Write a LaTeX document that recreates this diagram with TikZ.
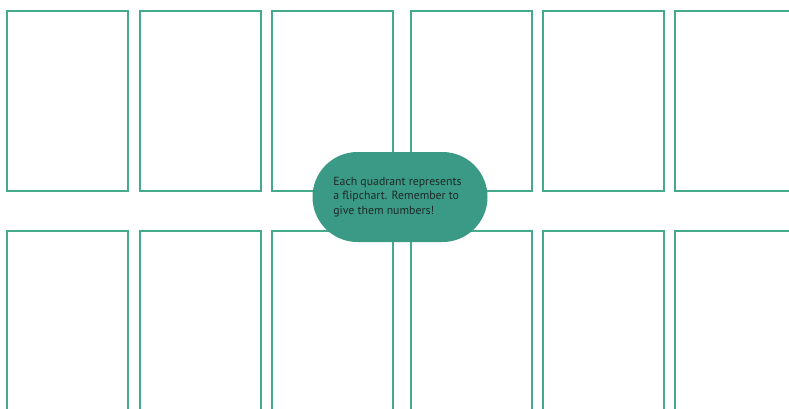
\documentclass[tikz,border=0pt]{standalone}
\usepackage{fontspec}
\setsansfont{PT Sans}
\usepackage{tikz}
\usetikzlibrary{positioning}
\definecolor{chartline}{HTML}{45AA8B}
\definecolor{pillfill}{HTML}{3A9A86}
\definecolor{notetext}{HTML}{1E2A28}

\begin{document}
\begin{tikzpicture}[x=1pt, y=-1pt,
  chart/.style={rectangle, draw=chartline, line width=2pt, fill=white,
    minimum width=121pt, minimum height=180pt, inner sep=0pt},
  pill/.style={rectangle, fill=pillfill, rounded corners=45pt,
    minimum width=175pt, minimum height=90pt, inner sep=0pt},
  note/.style={align=left, font=\sffamily\fontsize{11.8}{14.5}\selectfont,
    text=notetext, inner sep=0pt},
]
  \useasboundingbox (0,0) rectangle (789,408);
  \clip (0,0) rectangle (789,408);

  % Top row of flipcharts
  \node[chart] (t1) at (67.5,100.75) {};
  \node[chart] (t2) at (200,100.75) {};
  \node[chart] (t3) at (332,100.75) {};
  \node[chart] (t4) at (471.5,100.75) {};
  \node[chart] (t5) at (603.5,100.75) {};
  \node[chart] (t6) at (735.5,100.75) {};

  % Bottom row of flipcharts
  \node[chart] (b1) at (67.5,321) {};
  \node[chart] (b2) at (200,321) {};
  \node[chart] (b3) at (332,321) {};
  \node[chart] (b4) at (471.5,321) {};
  \node[chart] (b5) at (603.5,321) {};
  \node[chart] (b6) at (735.5,321) {};

  % Note
  \node[pill] (hint) at (400,197) {};
  \node[note] (hinttext) at (397.5,197) {Each quadrant represents\\a flipchart. Remember to\\give them numbers!};
\end{tikzpicture}
\end{document}
